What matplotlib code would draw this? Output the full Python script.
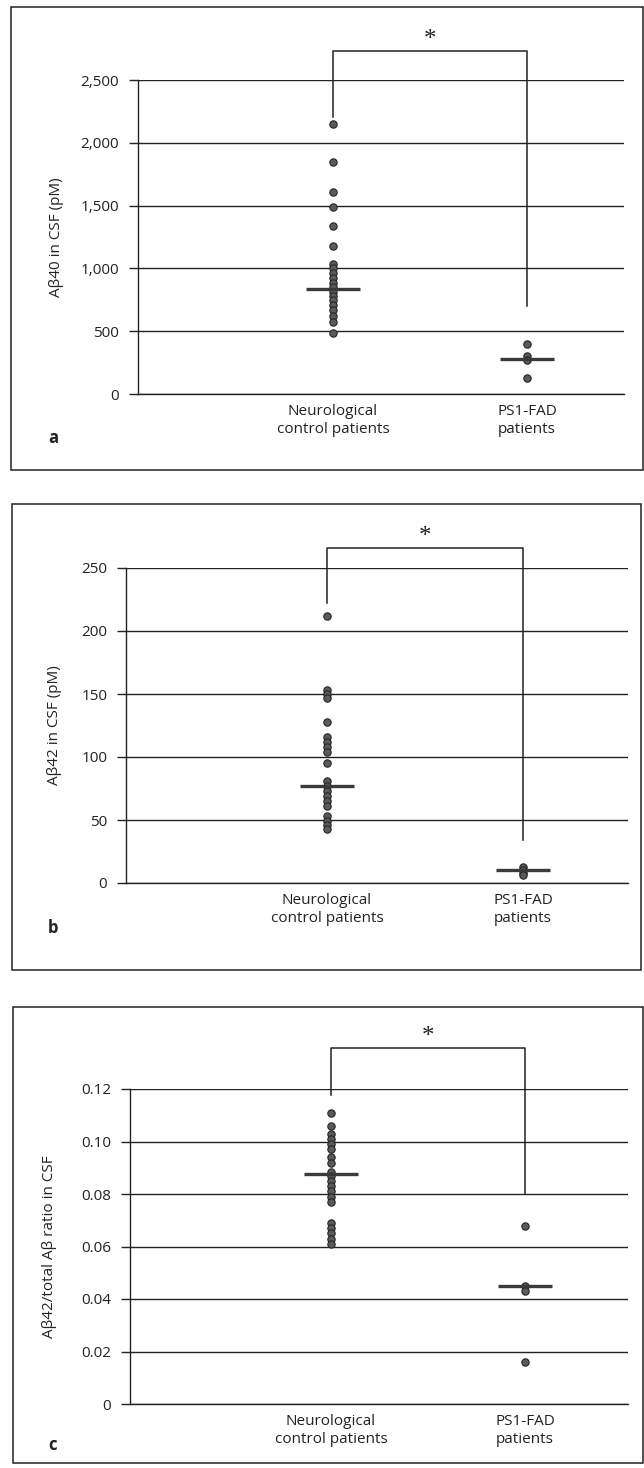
import matplotlib
matplotlib.use("Agg")
import matplotlib.pyplot as plt
from matplotlib.patches import Rectangle

plt.rcParams["font.family"] = ["Open Sans", "DejaVu Sans"]

categories = ["Neurological\ncontrol patients", "PS1-FAD\npatients"]

# panel a: Abeta40 (pM)
a40_control = [2150, 1845, 1610, 1485, 1335, 1180, 1035, 1005, 965, 925,
               885, 850, 815, 780, 745, 705, 665, 625, 575, 485]
a40_fad = [400, 300, 270, 130]
a40_medians = [835, 280]

# panel b: Abeta42 (pM)
a42_control = [212, 153, 150, 147, 128, 116, 112, 108, 104, 95,
               81, 77, 73, 69, 65, 61, 53, 49, 46, 43]
a42_fad = [13, 10, 8, 6]
a42_medians = [77, 10]

# panel c: Abeta42 / total Abeta ratio
ratio_control = [0.111, 0.106, 0.103, 0.101, 0.099, 0.097, 0.094, 0.092,
                 0.0885, 0.087, 0.085, 0.083, 0.081, 0.079, 0.077,
                 0.069, 0.067, 0.065, 0.063, 0.061]
ratio_fad = [0.068, 0.045, 0.043, 0.016]
ratio_medians = [0.0877, 0.045]

yticks_a = [0, 500, 1000, 1500, 2000, 2500]
ylabels_a = ["0", "500", "1,000", "1,500", "2,000", "2,500"]
yticks_b = [0, 50, 100, 150, 200, 250]
ylabels_b = ["0", "50", "100", "150", "200", "250"]
yticks_c = [0, 0.02, 0.04, 0.06, 0.08, 0.10, 0.12]
ylabels_c = ["0", "0.02", "0.04", "0.06", "0.08", "0.10", "0.12"]

W, H = 644, 1468
fig = plt.figure(figsize=(W / 100, H / 100), dpi=100)
FS = 11


def fx(px):
    return px / W


def fy(py):
    return 1 - py / H


panels = [
    dict(box=(11, 7, 643, 470), ax=(138, 80, 624, 394), cats=(333, 527),
         ctrl=a40_control, fad=a40_fad, med=a40_medians,
         ticks=yticks_a, tlabels=ylabels_a,
         ylabel="Aβ40 in CSF (pM)", ylx=56, letter="a", lety=438,
         bracket=(2205, 2731, 700)),
    dict(box=(12, 504, 641, 970), ax=(126, 568, 628, 883), cats=(327, 523),
         ctrl=a42_control, fad=a42_fad, med=a42_medians,
         ticks=yticks_b, tlabels=ylabels_b,
         ylabel="Aβ42 in CSF (pM)", ylx=54, letter="b", lety=928,
         bracket=(222, 266, 34)),
    dict(box=(13, 1007, 643, 1463), ax=(130, 1089, 628, 1404), cats=(331, 525),
         ctrl=ratio_control, fad=ratio_fad, med=ratio_medians,
         ticks=yticks_c, tlabels=ylabels_c,
         ylabel="Aβ42/total Aβ ratio in CSF", ylx=50, letter="c", lety=1445,
         bracket=(0.1178, 0.1356, 0.080)),
]

for p in panels:
    x0, y0, x1, y1 = p["box"]
    fig.patches.append(Rectangle((fx(x0), fy(y1)), fx(x1 - x0), (y1 - y0) / H,
                                 transform=fig.transFigure, fill=False,
                                 edgecolor="#222222", linewidth=1.1))
    l, t, r, b = p["ax"]
    ax = fig.add_axes([fx(l), fy(b), fx(r - l), (b - t) / H])
    c1, c2 = p["cats"]
    unit = c2 - c1
    ax.set_xlim(1 - (c1 - l) / unit, 2 + (r - c2) / unit)
    ax.set_ylim(p["ticks"][0], p["ticks"][-1])

    for spine in ["top", "right"]:
        ax.spines[spine].set_visible(False)
    for spine in ["left", "bottom"]:
        ax.spines[spine].set_color("#222222")
        ax.spines[spine].set_linewidth(1.0)

    ax.set_yticks(p["ticks"], p["tlabels"])
    ax.tick_params(axis="y", length=6.5, width=1.0, color="#222222",
                   pad=7, labelsize=FS, labelcolor="#222222")
    ax.set_xticks([1, 2], categories)
    ax.tick_params(axis="x", length=0, pad=7, labelsize=FS,
                   labelcolor="#222222")
    for lab in ax.get_xticklabels():
        lab.set_linespacing(1.3)
    ax.grid(axis="y", color="#222222", linewidth=1.0)
    ax.set_axisbelow(True)

    ax.scatter([1] * len(p["ctrl"]), p["ctrl"], s=28, color="#5a5a5a",
               edgecolors="#262626", linewidths=0.8, zorder=3)
    ax.scatter([2] * len(p["fad"]), p["fad"], s=28, color="#5a5a5a",
               edgecolors="#262626", linewidths=0.8, zorder=3)
    for i, m in enumerate(p["med"]):
        ax.plot([i + 1 - 0.14, i + 1 + 0.14], [m, m], color="#3a3a3a",
                linewidth=2.4, solid_capstyle="butt", zorder=4)

    lo1, top, lo2 = p["bracket"]
    ax.plot([1, 1, 2, 2], [lo1, top, top, lo2], color="#222222",
            linewidth=1.1, clip_on=False, zorder=5)
    ax.annotate("*", xy=(1.5, top), xytext=(0, 0), textcoords="offset points",
                ha="center", va="bottom", fontsize=18,
                family="Liberation Serif", color="#222222",
                annotation_clip=False)

    fig.text(fx(p["ylx"]), fy((t + b) / 2), p["ylabel"], rotation=90,
             ha="center", va="center", fontsize=FS, color="#222222")
    fig.text(fx(48), fy(p["lety"]), p["letter"], ha="left", va="center",
             fontsize=12, fontweight="bold", color="#222222")

fig.savefig("out.png", dpi=100)
